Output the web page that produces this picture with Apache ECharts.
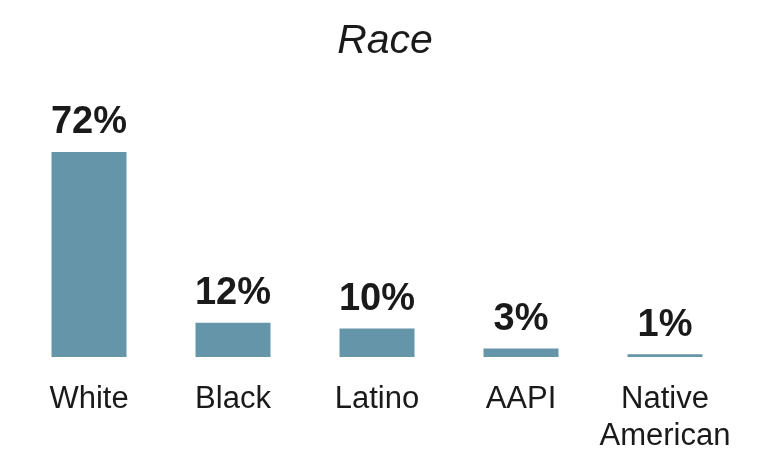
<!DOCTYPE html>
<html><head><meta charset="utf-8">
<script src="https://cdn.jsdelivr.net/npm/echarts@6/dist/echarts.min.js"></script>
<style>html,body{margin:0;padding:0;background:#fff}#c{width:770px;height:476px}</style>
</head><body><div id="c"></div>
<script>
const categories = ['White', 'Black', 'Latino', 'AAPI', 'Native\nAmerican'];
const values = [72, 12, 10, 3, 1];
const chart = echarts.init(document.getElementById('c'));
chart.setOption({
  animation: false,
  backgroundColor: '#ffffff',
  title: {
    text: 'Race', left: 'center', top: 16,
    textStyle: { fontFamily: 'Liberation Sans', fontStyle: 'italic', fontWeight: 'normal', fontSize: 41, color: '#1a1a1a' }
  },
  grid: { left: 17, right: 33, top: 152, bottom: 119 },
  xAxis: {
    type: 'category', data: categories,
    axisLine: { show: false }, axisTick: { show: false },
    axisLabel: { interval: 0, hideOverlap: false, margin: 24, fontFamily: 'Liberation Sans', fontSize: 31, color: '#1a1a1a', lineHeight: 37, verticalAlign: 'top' }
  },
  yAxis: { type: 'value', min: 0, max: 'dataMax', show: false, splitLine: { show: false } },
  series: [{
    type: 'bar', data: values, barWidth: 75,
    itemStyle: { color: '#6495a8' },
    label: {
      show: true, position: 'top', distance: 10,
      formatter: '{c}%', fontFamily: 'Liberation Sans', fontWeight: 'bold', fontSize: 38, color: '#1a1a1a'
    }
  }]
});
</script></body></html>
